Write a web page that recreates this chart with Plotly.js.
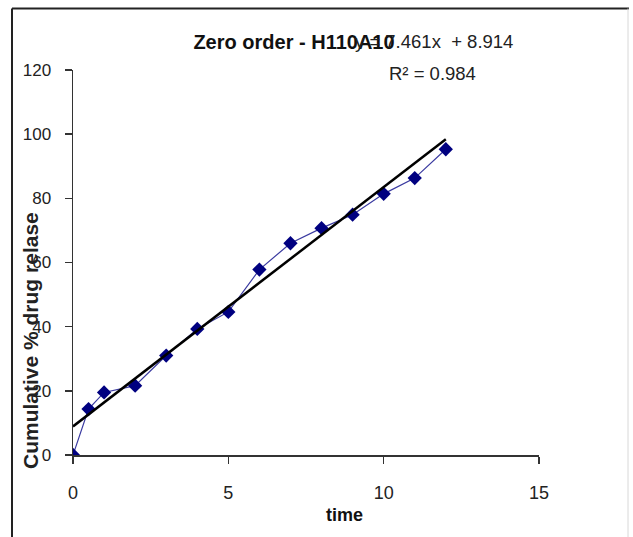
<!DOCTYPE html>
<html>
<head>
<meta charset="utf-8">
<script src="https://cdn.plot.ly/plotly-3.0.1.min.js"></script>
<style>
  html, body { margin: 0; padding: 0; background: #fff; }
  #chart { width: 633px; height: 537px; }
</style>
</head>
<body>
<div id="chart"></div>
<script>
// ---- data ----
const timeValues = [0, 0.5, 1, 2, 3, 4, 5, 6, 7, 8, 9, 10, 11, 12];
const releaseValues = [0, 14.3, 19.5, 21.6, 31.0, 39.3, 44.6, 57.8, 66.0, 70.7, 74.9, 81.4, 86.3, 95.3];
const trendSlope = 7.461;
const trendIntercept = 8.914;
const rSquared = 0.984;
const chartTitle = "Zero order - H110A10";
const xTitle = "time";
const yTitle = "Cumulative % drug relase";
const xTicks = [0, 5, 10, 15];
const yTicks = [0, 20, 40, 60, 80, 100, 120];

// trendline endpoints from the fitted equation
const trendX = [Math.min(...timeValues), Math.max(...timeValues)];
const trendY = trendX.map(x => trendSlope * x + trendIntercept);

const fam = "Liberation Sans, Arial, sans-serif";

const data = [
  {
    x: timeValues, y: releaseValues, type: "scatter", mode: "lines+markers",
    line: { color: "#3a3aa0", width: 1.2 },
    marker: { symbol: "diamond", size: 11, color: "#000080" },
    showlegend: false, hoverinfo: "x+y"
  },
  {
    x: trendX, y: trendY, type: "scatter", mode: "lines",
    line: { color: "#000000", width: 2.5 },
    showlegend: false, hoverinfo: "skip"
  }
];

const layout = {
  width: 633, height: 537,
  margin: { l: 73, r: 94, t: 70, b: 82, pad: 0 },
  paper_bgcolor: "#ffffff", plot_bgcolor: "#ffffff",
  title: {
    text: "<b>" + chartTitle + "</b>",
    font: { family: fam, size: 20, color: "#111" },
    xref: "container", yref: "container",
    x: 294 / 633, y: 1 - 42 / 537, xanchor: "center", yanchor: "middle"
  },
  xaxis: {
    range: [0, 15], tickvals: xTicks, ticktext: xTicks.map(String),
    showline: true, linecolor: "#333", linewidth: 1.5,
    ticks: "outside", ticklen: 7, tickwidth: 1.5, tickcolor: "#333",
    ticklabelstandoff: 14,
    showgrid: false, zeroline: false,
    tickfont: { family: fam, size: 18, color: "#222" },
    fixedrange: true
  },
  yaxis: {
    range: [0, 120], tickvals: yTicks, ticktext: yTicks.map(String),
    showline: true, linecolor: "#333", linewidth: 1.5,
    ticks: "outside", ticklen: 7, tickwidth: 1.5, tickcolor: "#333",
    ticklabelstandoff: 10,
    showgrid: false, zeroline: false,
    tickfont: { family: fam, size: 17, color: "#222" },
    fixedrange: true
  },
  annotations: [
    {
      text: "y = " + trendSlope + "x  + " + trendIntercept,
      xref: "paper", yref: "paper",
      x: (434 - 73) / 466, y: (455 - 42) / 385,
      xanchor: "center", yanchor: "middle", showarrow: false,
      font: { family: fam, size: 18.5, color: "#222" }
    },
    {
      text: "R² = " + rSquared,
      xref: "paper", yref: "paper",
      x: (432 - 73) / 466, y: (455 - 73) / 385,
      xanchor: "center", yanchor: "middle", showarrow: false,
      font: { family: fam, size: 18.5, color: "#222" }
    },
    {
      text: "<b>" + xTitle + "</b>",
      xref: "paper", yref: "paper",
      x: (344 - 73) / 466, y: (455 - 515) / 385,
      xanchor: "center", yanchor: "middle", showarrow: false,
      font: { family: fam, size: 18, color: "#111" }
    },
    {
      text: "<b>" + yTitle + "</b>",
      xref: "paper", yref: "paper",
      x: (30 - 73) / 466, y: (455 - 341) / 385,
      xanchor: "center", yanchor: "middle", showarrow: false, textangle: -90,
      font: { family: fam, size: 21, color: "#222" }
    }
  ],
  shapes: [
    { type: "line", xref: "paper", yref: "paper",
      x0: (12 - 73) / 466, x1: (629 - 73) / 466, y0: (455 - 8.5) / 385, y1: (455 - 8.5) / 385,
      line: { color: "#222", width: 2 } },
    { type: "line", xref: "paper", yref: "paper",
      x0: (12 - 73) / 466, x1: (12 - 73) / 466, y0: (455 - 8.5) / 385, y1: (455 - 545) / 385,
      line: { color: "#222", width: 2 } },
    { type: "line", xref: "paper", yref: "paper",
      x0: (628 - 73) / 466, x1: (628 - 73) / 466, y0: (455 - 8.5) / 385, y1: (455 - 545) / 385,
      line: { color: "#d8d8d8", width: 1 } }
  ]
};

Plotly.newPlot("chart", data, layout, { displayModeBar: false, staticPlot: true });
</script>
</body>
</html>
